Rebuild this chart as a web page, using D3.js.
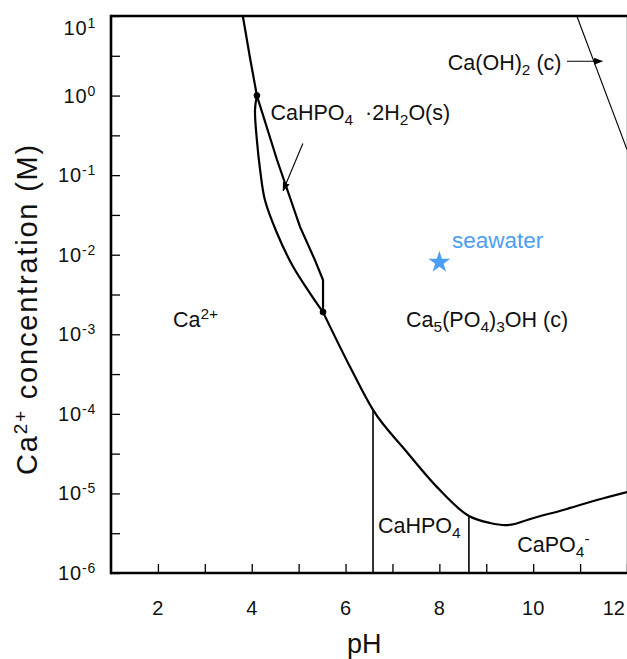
<!DOCTYPE html>
<html>
<head>
<meta charset="utf-8">
<script src="https://cdn.jsdelivr.net/npm/d3@7"></script>
<style>
  html, body { margin: 0; padding: 0; background: #fff; }
  svg { display: block; font-family: "Liberation Sans", Arial, Helvetica, sans-serif; }
</style>
</head>
<body>
<svg id="chart" width="627" height="659"></svg>
<script>
// ---------- data ----------
const yTickExponents = [1, 0, -1, -2, -3, -4, -5, -6];
const xTickValues = [2, 3, 4, 5, 6, 7, 8, 9, 10, 11, 12];
const xTickLabels = [2, 4, 6, 8, 10, 12];

// upper part of Ca2+ / solid boundary (above CaHPO4·2H2O triple point)
const upperPH   = [3.81, 3.96, 4.11];
const upperConc = [10, 3.05, 1.0];

// left branch (Ca2+ / Ca5(PO4)3OH boundary)
const leftPH   = [4.11, 4.07, 4.11, 4.18, 4.28, 4.54, 4.88, 5.24, 5.52];
const leftConc = [1.0, 0.66, 0.275, 0.115, 0.049, 0.0186, 0.0071, 0.0033, 0.0019];

// right branch (CaHPO4·2H2O(s) boundary)
const rightPH   = [4.11, 4.54, 5.03, 5.35, 5.52, 5.52];
const rightConc = [1.0, 0.155, 0.0224, 0.0085, 0.0048, 0.0019];

// lower boundary (Ca5(PO4)3OH(c) solubility)
const lowerPH   = [5.52, 6.095, 6.586, 7.27, 7.95, 8.63, 9.08, 9.40, 9.61, 9.87, 10.64, 11.36, 12.0];
const lowerConc = [0.0019, 3.9e-4, 1.12e-4, 3.52e-5, 1.2e-5, 5.2e-6, 4.25e-6, 4.0e-6, 4.13e-6, 4.64e-6, 6.2e-6, 8.26e-6, 1.04e-5];

// vertical species boundaries (pH, top conc)
const vertPH   = [6.586, 8.63];
const vertConc = [1.12e-4, 5.2e-6];

// Ca(OH)2(c) line
const caohPH   = [10.93, 12.0];
const caohConc = [10, 0.21];

// triple points
const dotPH   = [4.11, 5.52];
const dotConc = [1.0, 0.0019];

// seawater
const seaPH = 8.0, seaConc = 0.008;

// ---------- layout ----------
const svg = d3.select("#chart");
const x = d3.scaleLinear().domain([1, 12]).range([111, 627]);
const y = d3.scaleLog().domain([1e-6, 10]).range([573, 16]);
const toPts = (ph, c) => ph.map((p, i) => [p, c[i]]);
const line = d3.line().x(d => x(d[0])).y(d => y(d[1]));
const smooth = d3.line().x(d => x(d[0])).y(d => y(d[1])).curve(d3.curveCatmullRom.alpha(0.5));
const mono = d3.line().x(d => x(d[0])).y(d => y(d[1])).curve(d3.curveMonotoneX);

// right faint border
svg.append("line").attr("x1", 626.5).attr("x2", 626.5).attr("y1", 16).attr("y2", 573)
  .attr("stroke", "#d0d0d0").attr("stroke-width", 1);

// ---------- axes ----------
const decades = yTickExponents.map(e => Math.pow(10, e));
const minors = decades.slice(1).map(d => d * Math.sqrt(10));

const yAxis = d3.axisLeft(y).tickValues(decades.concat(minors)).tickSize(-9).tickFormat("");
const gy = svg.append("g").attr("transform", `translate(${x(1)},0)`).call(yAxis);
gy.select(".domain").remove();
gy.selectAll(".tick line").attr("stroke", "#000").attr("stroke-width", 1.3);

const xAxis = d3.axisBottom(x).tickValues(xTickValues).tickSize(-9).tickFormat("");
const gx = svg.append("g").attr("transform", `translate(0,${y(1e-6)})`).call(xAxis);
gx.select(".domain").remove();
gx.selectAll(".tick line").attr("stroke", "#000").attr("stroke-width", 1.3);

// axis lines (left, bottom, top)
svg.append("line").attr("x1", x(1)).attr("x2", x(1)).attr("y1", y(10) - 1.3).attr("y2", y(1e-6) + 1.3)
  .attr("stroke", "#000").attr("stroke-width", 2.6);
svg.append("line").attr("x1", x(1)).attr("x2", 627).attr("y1", y(1e-6)).attr("y2", y(1e-6))
  .attr("stroke", "#000").attr("stroke-width", 2.6);
svg.append("line").attr("x1", x(1)).attr("x2", 627).attr("y1", y(10)).attr("y2", y(10))
  .attr("stroke", "#000").attr("stroke-width", 2.4);

// y tick labels 10^n
yTickExponents.forEach((e, i) => {
  const ty = y(Math.pow(10, e)) + (i === 0 ? 19 : 7);
  const t = svg.append("text").attr("x", 96).attr("y", ty)
    .attr("text-anchor", "end").attr("font-size", 20).attr("letter-spacing", 0.8).attr("fill", "#111");
  t.append("tspan").text("10");
  t.append("tspan").attr("dy", -7).attr("font-size", 14).text(e);
});

// x tick labels
xTickLabels.forEach(v => {
  svg.append("text").attr("x", v === 12 ? x(v) - 2 : x(v)).attr("y", 615)
    .attr("text-anchor", v === 12 ? "end" : "middle").attr("font-size", 20).attr("fill", "#111").text(v);
});

// axis titles
svg.append("text").attr("x", x(6.4)).attr("y", 653).attr("text-anchor", "middle")
  .attr("font-size", 27).attr("fill", "#111").text("pH");

const yt = svg.append("text").attr("transform", "translate(37,309) rotate(-90)")
  .attr("text-anchor", "middle").attr("font-size", 29).attr("letter-spacing", 1.8).attr("fill", "#111");
yt.append("tspan").text("Ca");
yt.append("tspan").attr("dy", -10).attr("font-size", 19).text("2+");
yt.append("tspan").attr("dy", 10).text(" concentration (M)");

// ---------- boundaries ----------
const thick = 2.2;
svg.append("path").attr("d", line(toPts(upperPH, upperConc)))
  .attr("fill", "none").attr("stroke", "#000").attr("stroke-width", thick);
svg.append("path").attr("d", smooth(toPts(leftPH, leftConc)))
  .attr("fill", "none").attr("stroke", "#000").attr("stroke-width", thick);
svg.append("path").attr("d", line(toPts(rightPH, rightConc)))
  .attr("fill", "none").attr("stroke", "#000").attr("stroke-width", thick);
svg.append("path").attr("d", mono(toPts(lowerPH, lowerConc)))
  .attr("fill", "none").attr("stroke", "#000").attr("stroke-width", thick);

vertPH.forEach((p, i) => {
  svg.append("line").attr("x1", x(p)).attr("x2", x(p)).attr("y1", y(vertConc[i])).attr("y2", y(1e-6))
    .attr("stroke", "#000").attr("stroke-width", 1.6);
});

svg.append("path").attr("d", line(toPts(caohPH, caohConc)))
  .attr("fill", "none").attr("stroke", "#000").attr("stroke-width", 1.1);

svg.selectAll("circle.dot").data(toPts(dotPH, dotConc)).enter().append("circle")
  .attr("class", "dot").attr("cx", d => x(d[0])).attr("cy", d => y(d[1])).attr("r", 3.3).attr("fill", "#000");

// ---------- arrows ----------
const defs = svg.append("defs");
defs.append("marker").attr("id", "ah").attr("viewBox", "0 0 10 10").attr("refX", 9).attr("refY", 5)
  .attr("markerWidth", 9).attr("markerHeight", 9).attr("markerUnits", "userSpaceOnUse").attr("orient", "auto")
  .append("path").attr("d", "M0,1 L10,5 L0,9 Z").attr("fill", "#000");

svg.append("line").attr("x1", x(10.72)).attr("y1", y(2.7)).attr("x2", x(11.47)).attr("y2", y(2.7))
  .attr("stroke", "#000").attr("stroke-width", 1.1).attr("marker-end", "url(#ah)");
svg.append("line").attr("x1", x(5.09)).attr("y1", y(0.25)).attr("x2", x(4.67)).attr("y2", y(0.064))
  .attr("stroke", "#000").attr("stroke-width", 1.1).attr("marker-end", "url(#ah)");

// ---------- labels ----------
function chem(px, py, parts, size, color) {
  const t = svg.append("text").attr("x", px).attr("y", py).attr("font-size", size).attr("fill", color || "#111");
  let shift = 0;
  parts.forEach(p => {
    const s = t.append("tspan").text(p.t);
    let target = p.sub ? 5 : (p.sup ? -8 : 0);
    if (target !== shift) { s.attr("dy", target - shift); shift = target; }
    if (p.sub || p.sup) s.attr("font-size", size * 0.72);
  });
  return t;
}

const fs = 21.5;
chem(x(4.4), y(0.49), [{t: "CaHPO"}, {t: "4", sub: 1}, {t: "\u00a0\u00a0·2H"}, {t: "2", sub: 1}, {t: "O(s)"}], fs);
chem(x(8.18), y(2.1), [{t: "Ca(OH)"}, {t: "2", sub: 1}, {t: " (c)"}], fs);
chem(x(2.32), y(0.00122), [{t: "Ca"}, {t: "2+", sup: 1}], fs);
chem(x(7.29), y(0.00122), [{t: "Ca"}, {t: "5", sub: 1}, {t: "(PO"}, {t: "4", sub: 1}, {t: ")"}, {t: "3", sub: 1}, {t: "OH (c)"}], fs);
chem(x(6.69), y(3.2e-6), [{t: "CaHPO"}, {t: "4", sub: 1}], fs);
chem(x(9.66), y(1.85e-6), [{t: "CaPO"}, {t: "4", sub: 1}, {t: "-", sup: 1}], fs);

// seawater
svg.append("path").attr("d", d3.symbol(d3.symbolStar, 150)())
  .attr("transform", `translate(${x(seaPH)},${y(seaConc)})`).attr("fill", "#4b9ef2");
svg.append("text").attr("x", x(8.27)).attr("y", y(0.0121)).attr("font-size", 22.5).attr("fill", "#4b9ef2").text("seawater");
</script>
</body>
</html>
